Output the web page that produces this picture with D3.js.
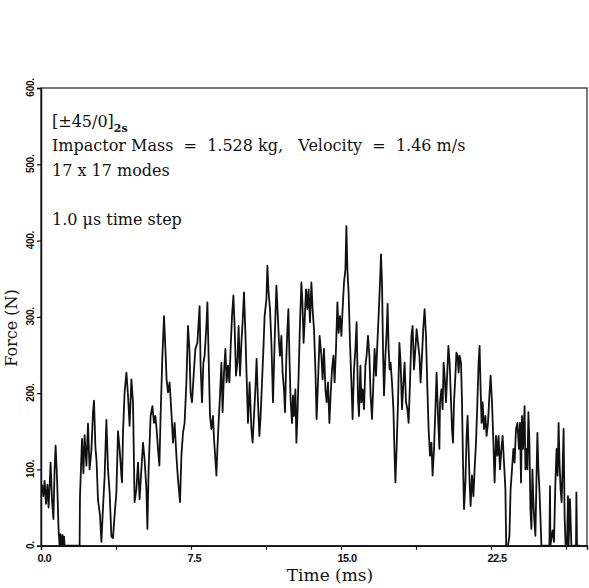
<!DOCTYPE html>
<html>
<head>
<meta charset="utf-8">
<script src="https://cdn.jsdelivr.net/npm/d3@7"></script>
<style>
  body { margin: 0; background: #fff; }
  svg { display: block; }
</style>
</head>
<body>
<svg></svg>
<script>
'use strict'

const W = 589, H = 588
const margin = { top: 88, right: 2, bottom: 42, left: 41 }

// time (ms) and contact force (N)
const timeMs = [
  0.05, 0.12, 0.18, 0.25, 0.32, 0.38, 0.45, 0.48, 0.55, 0.62, 0.68, 0.73, 0.80, 0.88, 0.93, 0.98, 1.02, 1.08, 1.12, 1.15, 1.18,
  1.93, 1.95, 2.05, 2.12, 2.18, 2.27, 2.35, 2.43, 2.52, 2.60, 2.65, 2.72, 2.78, 2.85, 2.95, 3.02, 3.10, 3.18, 3.27, 3.35, 3.43,
  3.52, 3.60, 3.68, 3.77, 3.85,
  3.93, 4.02, 4.05, 4.10, 4.18, 4.27, 4.35, 4.43, 4.52, 4.60, 4.68, 4.77, 4.85, 4.93, 5.02, 5.10, 5.18, 5.27, 5.32, 5.38, 5.48,
  5.57, 5.65, 5.72, 5.78, 5.85, 5.92, 5.98, 6.07, 6.15, 6.22, 6.28, 6.35, 6.43, 6.52, 6.60, 6.68, 6.77, 6.85, 6.95, 7.02, 7.10,
  7.18, 7.27, 7.35, 7.42, 7.48, 7.55, 7.65, 7.72, 7.82,
  7.93, 7.98, 8.05, 8.12, 8.18, 8.27, 8.32, 8.38, 8.45, 8.52, 8.60, 8.65, 8.72, 8.77, 8.82, 8.88, 8.95, 9.02, 9.08, 9.15, 9.22,
  9.28, 9.35, 9.42, 9.48, 9.55, 9.62, 9.68, 9.75, 9.82, 9.88, 9.95, 10.02, 10.08, 10.15, 10.22, 10.28, 10.35, 10.43, 10.52, 10.58,
  10.65, 10.72, 10.78, 10.85, 10.92, 10.98, 11.05, 11.12, 11.18, 11.27, 11.32, 11.38, 11.45, 11.52, 11.60, 11.68, 11.77, 11.85,
  11.90, 11.95, 12.02, 12.08, 12.15, 12.20, 12.27, 12.32, 12.37, 12.42, 12.48, 12.55, 12.60, 12.65, 12.72, 12.77, 12.82, 12.88,
  12.95, 13.02, 13.07, 13.13, 13.18, 13.25, 13.32, 13.38, 13.45, 13.52, 13.58, 13.65, 13.72, 13.78, 13.85, 13.93, 14.02, 14.08,
  14.15, 14.22, 14.28, 14.35, 14.42, 14.48, 14.55, 14.62, 14.68, 14.75, 14.82, 14.88, 14.95, 15.02, 15.08, 15.15, 15.22, 15.27,
  15.32, 15.38, 15.45, 15.52, 15.58, 15.65, 15.72, 15.78, 15.85,
  15.90, 15.97, 16.02, 16.08, 16.15, 16.22, 16.28, 16.35, 16.42, 16.48, 16.55, 16.62, 16.68, 16.75, 16.82, 16.88, 16.95, 17.00,
  17.05, 17.10, 17.15, 17.22, 17.28, 17.33, 17.38, 17.43, 17.48, 17.55, 17.62, 17.67, 17.72, 17.78, 17.85, 17.92, 17.98, 18.05,
  18.12, 18.18, 18.25, 18.32, 18.38, 18.45, 18.52, 18.58, 18.65, 18.72, 18.78, 18.85, 18.92, 18.98, 19.05, 19.12, 19.18, 19.25,
  19.32, 19.38, 19.45, 19.52, 19.58, 19.65, 19.72, 19.78, 19.85,
  19.92, 19.95, 20.02, 20.08, 20.13, 20.18, 20.25, 20.32, 20.37, 20.43, 20.48, 20.55, 20.60, 20.65, 20.72, 20.77, 20.83, 20.88,
  20.93, 21.00, 21.05, 21.10, 21.15, 21.22, 21.28, 21.33, 21.38, 21.43, 21.48, 21.55, 21.62, 21.68, 21.75, 21.82, 21.88, 21.93,
  21.98, 22.03, 22.08, 22.15, 22.22, 22.28, 22.35, 22.42, 22.48, 22.55, 22.62, 22.68, 22.75, 22.82, 22.88, 22.95, 23.02, 23.08,
  23.15, 23.22, 23.26, 23.35, 23.42, 23.48, 23.55, 23.62, 23.68, 23.75, 23.82,
  23.90, 23.95, 24.00, 24.05, 24.10, 24.18, 24.22, 24.27, 24.32, 24.37, 24.42, 24.47, 24.52, 24.57, 24.62, 24.67, 24.72, 24.77,
  24.82, 24.87, 24.92, 24.97, 25.02, 25.42, 25.45, 25.47, 25.52, 25.58, 25.65, 25.72, 25.78, 25.83, 25.88, 25.93, 25.98, 26.03,
  26.08, 26.13, 26.18, 26.23, 26.30, 26.35, 26.38, 26.45, 26.52, 26.75, 26.77, 26.80, 26.95
]

const forceN = [
  80, 65, 85, 55, 80, 50, 90, 109, 60, 35, 100, 131, 90, 20, 0, 15, 0, 14, 0, 12, 0,
  0, 65, 140, 95, 145, 105, 160, 100, 125, 175, 190, 130, 110, 60, 40, 5, 50, 90, 165, 100, 70,
  12, 10, 40, 70, 150,
  127, 92, 83, 148, 201, 227, 197, 157, 218, 188, 57, 74, 109, 61, 100, 135, 113, 74, 22, 100, 170,
  183, 161, 170, 153, 127, 105, 170, 249, 301, 258, 218, 201, 214, 175, 135, 161, 118, 87, 57, 118, 148,
  161, 214, 288, 258, 201, 188, 231, 258, 266,
  314, 236, 188, 240, 249, 288, 319, 249, 170, 153, 170, 140, 113, 92, 127, 161, 197, 240, 175, 227, 258,
  214, 236, 214, 258, 301, 328, 288, 223, 240, 288, 223, 266, 293, 332, 279, 223, 161, 214, 153, 135,
  170, 205, 245, 188, 144, 170, 214, 258, 301, 323, 367, 332, 310, 266, 188, 266, 341, 297,
  266, 249, 275, 227, 205, 175, 249, 284, 310, 249, 192, 161, 197, 170, 205, 135, 170, 223,
  293, 345, 319, 266, 293, 336, 310, 336, 293, 345, 310, 284, 231, 166, 214, 275, 249, 218,
  258, 205, 188, 214, 161, 197, 231, 249, 214, 258, 319, 279, 301, 275, 310, 345, 362, 419,
  362, 332, 266, 214, 166, 231, 258, 293, 192,
  170, 236, 188, 205, 179, 236, 249, 275, 249, 197, 166, 214, 258, 223, 266, 301, 345, 382,
  345, 258, 197, 249, 279, 317, 258, 231, 240, 214, 179, 127, 83, 127, 188, 266, 240, 179,
  214, 240, 188, 179, 161, 214, 275, 288, 231, 258, 284, 266, 249, 214, 249, 288, 310, 275,
  205, 153, 118, 135, 92, 127, 179, 227, 170,
  127, 188, 205, 179, 240, 223, 188, 231, 262, 240, 205, 153, 135, 188, 223, 253, 249, 227,
  249, 240, 188, 109, 48, 83, 144, 170, 127, 83, 52, 92, 65, 100, 135, 188, 240, 262,
  205, 161, 188, 153, 170, 144, 161, 197, 223, 188, 135, 83, 144, 118, 144, 100, 127, 144,
  109, 74, 0, 0, 13, 74, 100, 127, 109, 153, 161,
  127, 161, 83, 170, 127, 183, 100, 127, 100, 175, 135, 48, 22, 100, 57, 31, 13, 83,
  148, 100, 74, 39, 0, 0, 78, 0, 10, 20, 5, 83, 127, 92, 161, 105, 74, 57,
  100, 153, 39, 0, 0, 65, 0, 61, 0, 0, 70, 0, 0
]

const yTicks = [0, 100, 200, 300, 400, 500, 600]
const xTicks = [0, 3.75, 7.5, 11.25, 15, 18.75, 22.5, 26.25]
const xLabelled = [0, 7.5, 15, 22.5]

const notes = [
  'Impactor Mass  =  1.528 kg,   Velocity  =  1.46 m/s',
  '17 x 17 modes',
  '',
  '1.0 μs time step'
]

const svg = d3.select('svg').attr('width', W).attr('height', H)

const x = d3.scaleLinear().domain([0, 27.3]).range([margin.left, W - margin.right])
const y = d3.scaleLinear().domain([0, 600]).range([H - margin.bottom - 0.3, margin.top])

const serif = '"DejaVu Serif", "Liberation Serif", serif'
const sans = '"Liberation Sans", Arial, sans-serif'

// frame
svg.append('rect')
  .attr('x', x(0)).attr('y', y(600))
  .attr('width', x(27.3) - x(0)).attr('height', y(0) - y(600))
  .attr('fill', 'none').attr('stroke', '#222').attr('stroke-width', 1.2)

// x axis
const xAxis = svg.append('g')
  .attr('transform', 'translate(0,' + y(0) + ')')
  .call(d3.axisBottom(x).tickValues(xTicks).tickSize(4).tickPadding(5)
    .tickFormat(d => xLabelled.includes(d) ? d3.format('.1f')(d) : ''))
xAxis.select('.domain').attr('stroke', '#111').attr('stroke-width', 1.5)
xAxis.selectAll('line').attr('stroke', '#111').attr('stroke-width', 1.2)
xAxis.selectAll('text')
  .attr('text-anchor', 'start').attr('dx', -4)
  .style('font-family', sans).style('font-weight', 'bold')
  .style('font-size', '11px').style('letter-spacing', '-0.6px').attr('fill', '#111')

// y axis
const yAxis = svg.append('g')
  .attr('transform', 'translate(' + x(0) + ',0)')
  .call(d3.axisLeft(y).tickValues(yTicks).tickSize(4).tickFormat(d => d + '.'))
yAxis.select('.domain').attr('stroke', '#111').attr('stroke-width', 1.5)
yAxis.selectAll('line').attr('stroke', '#111').attr('stroke-width', 1.2)
yAxis.selectAll('text')
  .attr('x', null).attr('dy', null)
  .attr('text-anchor', 'middle')
  .attr('transform', 'translate(-7,-1) rotate(-90)')
  .style('font-family', sans).style('font-weight', 'bold')
  .style('font-size', '10px').style('letter-spacing', '-0.3px').attr('fill', '#111')

// force trace
const pts = timeMs.map((t, i) => [t, forceN[i]])
svg.append('path')
  .datum(pts)
  .attr('fill', 'none')
  .attr('stroke', '#111')
  .attr('stroke-width', 1.8)
  .attr('stroke-linejoin', 'round')
  .attr('d', d3.line().x(d => x(d[0])).y(d => y(d[1])))

// axis titles
svg.append('text')
  .attr('transform', 'translate(17,' + 328 + ') rotate(-90)')
  .attr('text-anchor', 'middle')
  .style('font-family', serif).style('font-size', '16px').attr('fill', '#111')
  .text('Force (N)')

svg.append('text')
  .attr('x', 330).attr('y', 581)
  .attr('text-anchor', 'middle')
  .style('font-family', serif).style('font-size', '17px').attr('fill', '#111')
  .text('Time (ms)')

// annotation block
const lay = svg.append('text')
  .attr('x', 52).attr('y', 127)
  .style('font-family', serif).style('font-size', '16px').attr('fill', '#111')
lay.append('tspan').text('[±45/0]')
lay.append('tspan').attr('dy', 5).style('font-size', '11px').style('font-weight', 'bold').text('2s')

svg.selectAll('text.note')
  .data(notes)
  .enter()
  .append('text')
  .attr('class', 'note')
  .attr('x', 52)
  .attr('y', (d, i) => 151 + i * 24.7)
  .style('font-family', serif).style('font-size', '16px')
  .style('white-space', 'pre').attr('fill', '#111')
  .text(d => d)
</script>
</body>
</html>
